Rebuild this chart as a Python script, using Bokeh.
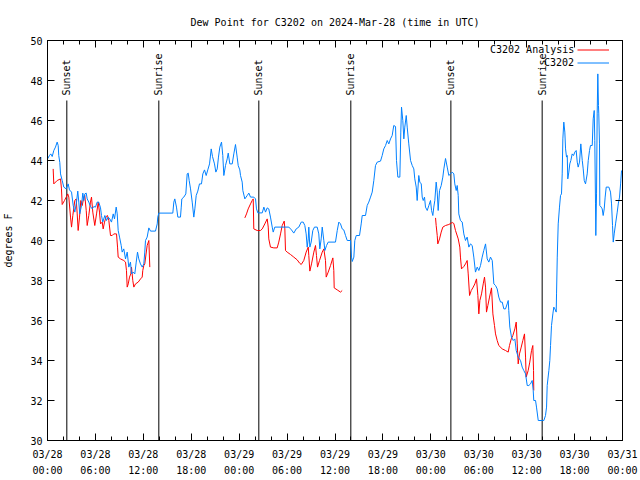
import math
from bokeh.plotting import figure
from bokeh.models import FixedTicker, LinearAxis, Range1d, ColumnDataSource, Legend, LegendItem
from bokeh.core.properties import value
from bokeh.embed import file_html
from bokeh.resources import INLINE

NaN = float("nan")

# hours since 2024-03-28 00:00 UTC
station_hours = [
    0.00, 0.25, 0.41, 0.59, 0.79, 1.00, 1.21, 1.34, 1.41, 1.54, 1.63, 1.84, 2.04, 2.34, 2.59, 2.75,
    3.01, 3.22, 3.42, 3.63, 3.79, 3.92, 4.04, 4.26, 4.42, 4.55, 4.67, 4.85, 4.97, 5.17, 5.38, 5.60,
    5.80, 6.01, 6.22, 6.42, 6.64, 6.76, 6.92, 7.18, 7.39, 7.60, 7.80, 8.01, 8.23, 8.39, 8.60, 8.73,
    8.85, 9.02, 9.23, 9.35, 9.55, 9.77, 9.98, 10.18, 10.39, 10.52, 10.73, 10.93, 11.11, 11.27, 11.43,
    11.64, 11.86, 12.06, 12.18, 12.27, 12.48, 12.69, 12.90, 13.52, 13.74, 13.81, 13.94, 15.69, 15.82,
    15.94, 16.15, 16.32, 16.65, 16.74, 16.82, 17.07, 17.32, 17.49, 17.62, 17.74, 17.91, 18.12, 18.32,
    18.45, 18.62, 18.82, 19.03, 19.28, 19.45, 19.66, 19.87, 20.07, 20.29, 20.50, 20.66, 20.91, 21.08,
    21.25, 21.41, 21.58, 21.79, 21.95, 22.08, 22.29, 22.50, 22.63, 22.83, 23.13, 23.33, 23.54, 23.75,
    23.88, 24.08, 24.17, 24.38, 24.46, 24.71, 25.01, 25.21, 25.42, 25.83, 26.05, 26.17, 26.34, 26.89,
    27.09, 27.30, 27.51, 27.71, 27.92, 28.14, 28.26, 28.46, 30.22, 30.55, 30.84, 31.14, 31.47, 31.77,
    32.02, 32.22, 32.39, 32.52, 32.65, 32.72, 32.85, 33.02, 33.22, 33.43, 33.77, 33.97, 34.10, 34.27,
    34.40, 34.60, 34.73, 34.94, 35.15, 36.06, 36.28, 36.48, 36.69, 36.90, 37.10, 37.32, 37.53, 37.94,
    38.07, 38.16, 38.36, 38.48, 38.66, 39.07, 39.28, 39.41, 39.82, 40.03, 40.23, 40.45, 40.66, 40.86,
    41.07, 41.29, 41.70, 41.91, 42.11, 42.33, 42.54, 42.74, 42.95, 43.16, 43.36, 43.58, 43.70, 43.87,
    44.12, 44.24, 44.33, 44.49, 44.62, 44.74, 44.92, 45.04, 45.24, 45.46, 45.67, 45.87, 45.99, 46.17,
    46.29, 46.49, 46.62, 46.80, 46.92, 47.05, 47.21, 47.33, 47.55, 47.75, 47.96, 48.09, 48.25, 48.37,
    48.50, 48.67, 48.80, 48.92, 49.09, 49.30, 49.50, 49.63, 49.84, 50.05, 50.25, 50.46, 50.68, 50.88,
    51.00, 51.18, 51.30, 51.43, 51.50, 51.71, 51.93, 52.13, 52.34, 52.55, 52.76, 52.97, 53.18, 53.38,
    53.59, 53.81, 54.01, 54.22, 54.43, 54.63, 54.85, 55.06, 55.26, 55.47, 55.69, 55.89, 56.10, 56.31,
    56.51, 56.73, 56.94, 57.14, 57.35, 57.56, 57.69, 57.76, 57.89, 58.10, 58.32, 58.52, 58.69, 58.94,
    59.23, 59.44, 59.64, 59.86, 60.07, 60.27, 60.48, 60.69, 60.82, 60.89, 61.11, 61.23, 61.45, 61.95,
    62.15, 62.36, 62.49, 62.57, 62.78, 62.90, 62.99, 63.11, 63.28, 63.40, 63.53, 63.70, 63.74, 63.83,
    63.95, 64.11, 64.24, 64.36, 64.45, 64.53, 64.65, 64.78, 64.87, 64.99, 65.08, 65.15, 65.28, 65.40,
    65.53, 65.70, 65.87, 66.03, 66.20, 66.33, 66.45, 66.62, 66.78, 66.96, 67.08, 67.21, 67.37, 67.58,
    67.71, 67.87, 67.99, 68.21, 68.33, 68.46, 68.53, 68.62, 68.66, 68.75, 68.83, 68.91, 68.99, 69.03,
    69.12, 69.16, 69.33, 69.46, 69.58, 69.71, 69.83, 69.96, 70.29, 70.50, 70.63, 70.75, 70.84, 70.96,
    71.13, 71.34, 71.47, 71.63, 71.76, 71.88,
]
station_dewpt = [
    44.08, 44.25, 44.33, 44.20, 44.50, 44.67, 44.92, 44.75, 44.25, 43.90, 43.33, 43.00, 42.67, 42.58, 42.83, 42.53,
    42.42, 41.75, 41.42, 41.92, 42.47, 41.92, 41.33, 41.75, 42.37, 42.00, 42.33, 42.37, 42.08, 41.92, 41.70, 41.58,
    41.70, 41.67, 41.92, 41.92, 41.63, 41.25, 40.92, 41.25, 41.00, 41.17, 41.08, 40.92, 41.33, 41.08, 41.67, 41.33,
    40.50, 40.17, 39.75, 39.42, 39.58, 39.08, 39.42, 38.67, 38.92, 38.33, 38.42, 38.33, 38.92, 39.42, 39.08,
    38.83, 38.67, 38.83, 39.42, 40.00, 40.17, 40.63, 40.47, 40.47, 40.83, 41.17, 41.37, 41.37, 41.92,
    42.08, 41.67, 41.17, 41.17, 41.63, 42.08, 42.17, 42.33, 43.33, 43.37, 43.00, 42.58, 41.92, 41.17,
    41.58, 42.25, 42.47, 42.83, 42.83, 43.33, 43.53, 43.25, 43.53, 43.83, 44.58, 44.20, 43.83, 43.42,
    43.58, 44.17, 44.67, 44.92, 44.25, 43.25, 43.75, 44.08, 44.37, 43.83, 43.83, 44.33, 44.80, 44.17,
    43.75, 43.53, 43.25, 42.92, 42.50, 42.08, 42.25, 42.37, 42.17, 42.17, 42.08, 41.58, 41.38, 41.38,
    41.67, 41.42, 41.63, 41.58, 41.17, 40.67, 40.42, 40.67, 40.67, 40.53, 40.37, 40.58, 40.67, 40.92,
    40.92, 40.75, 40.33, 39.67, 40.08, 40.67, 39.67, 39.92, 40.50, 40.67, 40.67, 40.33, 39.58, 40.08,
    40.67, 40.00, 39.50, 39.75, 39.92, 39.92, 40.50, 40.92, 40.83, 40.58, 40.53, 40.25, 40.00, 40.00,
    39.17, 38.95, 39.17, 40.00, 40.25, 40.25, 40.83, 41.25, 41.25, 41.75, 41.92, 42.17, 42.42, 43.00,
    43.75, 43.92, 43.97, 44.25, 44.58, 44.75, 45.00, 44.83, 45.08, 45.25, 45.75, 45.70, 44.00, 43.17,
    43.17, 45.42, 46.67, 46.00, 45.08, 45.67, 46.25, 45.67, 44.83, 44.00, 43.75, 43.58, 43.08, 42.67,
    42.00, 43.25, 42.92, 42.83, 42.17, 42.00, 42.17, 41.67, 41.50, 41.75, 42.00, 41.50, 41.25, 41.67,
    42.00, 42.92, 42.42, 41.50, 42.50, 42.75, 43.17, 43.58, 44.10, 43.67, 43.25, 43.33, 43.42, 43.33,
    42.83, 42.50, 42.75, 42.25, 41.33, 41.00, 40.92, 40.33, 40.00, 40.17, 39.67, 39.83, 39.75, 39.17,
    38.42, 38.67, 38.50, 38.75, 39.17, 39.50, 39.83, 39.08, 38.92, 39.17, 39.00, 37.83, 37.75, 37.58,
    37.17, 36.92, 36.92, 36.58, 36.58, 36.83, 37.00, 36.50, 35.67, 35.17, 35.00, 35.08, 34.50, 34.17,
    34.00, 33.67, 33.50, 33.33, 32.75, 32.75, 32.83, 33.00, 32.50, 32.00, 32.00, 31.67, 31.00, 31.00,
    31.00, 31.25, 31.67, 32.75, 33.50, 34.00, 34.75, 35.75, 36.33, 36.67, 36.58, 36.42, 37.33, 39.17,
    40.83, 41.67, 42.25, 42.33, 43.33, 45.08, 45.92, 45.42, 44.58, 44.17, 44.25, 43.08, 43.42, 43.83,
    44.00, 44.33, 44.25, 44.42, 44.50, 43.92, 43.67, 43.92, 44.83, 44.00, 43.58, 43.00, 42.83, 43.33,
    44.00, 44.50, 44.75, 44.75, 46.08, 46.50, 45.00, 41.83, 40.25, 42.33, 46.33, 48.33, 46.75, 46.33,
    44.83, 41.75, 41.67, 41.58, 41.25, 41.58, 42.17, 42.67, 42.67, 42.42, 41.83, 40.75, 39.92, 40.33,
    40.83, 41.42, 41.83, 42.17, 42.83, 43.50,
]

analysis_hours = [
    0.71, 0.79, 1.21, 1.63, 1.75, 1.84, 2.13, 2.34, 2.54, 2.67, 2.88, 3.01, 3.17, 3.42, 3.59, 3.72,
    3.84, 4.01, 4.17, 4.35, 4.55, 4.67, 4.85, 4.97, 5.17, 5.38, 5.51, 5.67, 5.92, 6.14, 6.35, 6.51,
    6.64, 6.85, 6.97, 7.14, 7.35, 7.51, 7.68, 7.89, 8.10, 8.30, 8.64, 8.77, 8.85, 9.14, 9.55, 9.77,
    9.89, 9.98, 10.11, 10.27, 10.43, 10.52, 10.68, 10.81, 11.02, 11.36, 11.65, 11.86, 11.93, 12.06,
    12.18, 12.48, 12.69, 12.81,
    NaN,
    24.71, 24.92, 25.13, 25.42, 25.63, 25.76, 25.83, 26.26, 26.67, 26.89, 27.21, 27.51, 27.64, 27.71,
    27.92, 28.34, 28.76, 28.96, 29.18, 29.39, 29.64, 29.72, 29.80, 30.01, 30.43, 30.84, 31.27, 31.56,
    31.77, 32.09, 32.39, 32.65, 32.72, 32.85, 33.06, 33.35, 33.56, 33.68, 33.81, 34.06, 34.40, 34.60,
    34.81, 34.90, 35.15, 35.44, 35.73, 35.85, 35.90, 36.28, 36.69, 36.90,
    NaN,
    48.59, 48.67, 48.80, 48.87, 49.09, 49.30, 49.50, 49.84, 50.25, 50.68, 50.88, 51.09, 51.43, 51.63,
    51.71, 51.84, 52.13, 52.34, 52.55, 52.68, 52.85, 53.06, 53.31, 53.51, 53.72, 53.89, 54.01, 54.14,
    54.35, 54.56, 54.72, 54.85, 54.97, 55.14, 55.35, 55.60, 55.77, 55.97, 56.10, 56.31, 56.51, 56.94,
    57.35, 57.69, 57.85, 58.07, 58.27, 58.52, 58.69, 58.82, 58.94, 59.10, 59.32, 59.52, 59.73, 59.86,
    59.94, 60.19, 60.39, 60.61, 60.77, 60.86, 60.89,
]
analysis_dewpt = [
    43.58, 42.83, 43.00, 43.08, 42.58, 41.80, 42.00, 42.17, 42.33, 42.17, 41.17, 40.67, 41.25, 42.00, 42.08, 41.33,
    40.50, 41.17, 42.00, 41.75, 42.17, 42.25, 41.50, 40.75, 41.25, 41.92, 42.17, 41.42, 40.75, 41.33, 41.92, 41.42,
    40.83, 40.92, 40.58, 40.92, 41.20, 41.25, 41.00, 40.25, 40.25, 40.33, 40.33, 39.67, 39.17, 39.08, 39.00, 38.92,
    38.50, 37.67, 37.83, 38.17, 38.33, 38.67, 38.00, 37.67, 37.83, 37.92, 38.08, 38.17, 38.50, 38.75,
    38.83, 39.75, 40.00, 38.67,
    NaN,
    41.13, 41.33, 41.58, 41.83, 42.00, 42.08, 40.58, 40.50, 40.50, 40.58, 40.83, 41.08, 40.67, 40.08,
    39.67, 39.63, 39.63, 39.92, 40.33, 40.75, 40.97, 40.58, 39.50, 39.42, 39.30, 39.17, 39.03, 38.87,
    38.80, 39.00, 39.42, 39.67, 39.25, 38.47, 38.83, 39.42, 39.75, 39.25, 38.67, 39.00, 39.42, 39.58,
    39.00, 38.17, 38.42, 38.75, 39.13, 38.50, 37.63, 37.53, 37.42, 37.50,
    NaN,
    41.13, 40.75, 40.25, 39.83, 40.08, 40.42, 40.67, 40.75, 40.80, 40.90, 40.85, 40.50, 40.08, 39.67,
    39.17, 38.58, 38.70, 38.83, 39.00, 38.33, 37.25, 37.50, 37.67, 37.83, 38.08, 37.25, 36.33, 37.00,
    37.33, 37.83, 38.17, 37.67, 36.42, 36.75, 37.17, 37.63, 36.33, 35.75, 35.33, 35.00, 34.75, 34.58,
    34.50, 34.42, 34.75, 35.08, 35.25, 35.58, 35.92, 34.83, 33.83, 34.33, 34.67, 35.00, 35.33, 34.17,
    33.17, 33.50, 33.92, 34.50, 34.75, 33.50, 32.50,
]

sun_event_hours = [2.42, 13.94, 26.46, 37.98, 50.51, 61.94]
sun_event_labels = ["Sunset", "Sunrise", "Sunset", "Sunrise", "Sunset", "Sunrise"]

x_tick_hours = [0, 6, 12, 18, 24, 30, 36, 42, 48, 54, 60, 66, 72]
x_tick_labels = ["03/28\n00:00", "03/28\n06:00", "03/28\n12:00", "03/28\n18:00",
                 "03/29\n00:00", "03/29\n06:00", "03/29\n12:00", "03/29\n18:00",
                 "03/30\n00:00", "03/30\n06:00", "03/30\n12:00", "03/30\n18:00",
                 "03/31\n00:00"]
x_minor_hours = list(range(0, 73, 2))
y_ticks = [30, 32, 34, 36, 38, 40, 42, 44, 46, 48, 50]

series_names = ["C3202 Analysis", "C3202"]
series_colors = ["#ff0000", "#0080ff"]

FONT = "DejaVu Sans Mono"
FS = "10px"

p = figure(width=640, height=480, output_backend="svg", toolbar_location=None,
           x_range=Range1d(0, 72), y_range=Range1d(30, 50),
           title="Dew Point for C3202 on 2024-Mar-28 (time in UTC)",
           min_border_left=47, min_border_right=18, min_border_top=40, min_border_bottom=40)
p.title.align = "center"
p.title.text_font = FONT
p.title.text_font_size = FS
p.title.text_font_style = "normal"
p.title.text_color = "black"
p.title.standoff = 25
p.grid.visible = False
p.outline_line_color = "black"
p.outline_line_alpha = 1.0
p.background_fill_color = "white"
p.border_fill_color = "white"

def style_axis(ax):
    ax.axis_line_color = "black"
    ax.major_tick_line_color = "black"
    ax.minor_tick_line_color = "black"
    ax.major_tick_in = 7
    ax.major_tick_out = 0
    ax.major_label_text_font = FONT
    ax.major_label_text_font_size = FS
    ax.major_label_text_color = "black"

xa = p.xaxis[0]
xa.ticker = FixedTicker(ticks=x_tick_hours, minor_ticks=x_minor_hours)
xa.major_label_overrides = {h: lab for h, lab in zip(x_tick_hours, x_tick_labels)}
style_axis(xa)
xa.minor_tick_in = 4
xa.minor_tick_out = 0
xa.major_label_standoff = 8
xa.major_label_text_line_height = 1.5

ya = p.yaxis[0]
ya.ticker = FixedTicker(ticks=y_ticks, minor_ticks=[])
style_axis(ya)
ya.minor_tick_in = 0
ya.minor_tick_out = 0
ya.major_label_standoff = 5
ya.axis_label = "degrees F"
ya.axis_label_text_font = FONT
ya.axis_label_text_font_size = FS
ya.axis_label_text_font_style = "normal"
ya.axis_label_text_color = "black"
ya.axis_label_standoff = 13

top = LinearAxis(ticker=FixedTicker(ticks=x_tick_hours, minor_ticks=x_minor_hours),
                 major_label_overrides={h: "" for h in x_tick_hours})
style_axis(top)
top.minor_tick_in = 4
top.minor_tick_out = 0
top.major_label_standoff = 0
top.major_label_text_font_size = "0px"
p.add_layout(top, "above")

right = LinearAxis(ticker=FixedTicker(ticks=y_ticks, minor_ticks=[]),
                   major_label_overrides={t: "" for t in y_ticks})
style_axis(right)
right.minor_tick_in = 0
right.minor_tick_out = 0
right.major_label_standoff = 0
right.major_label_text_font_size = "0px"
p.add_layout(right, "right")

# sunrise / sunset markers
sun_src = ColumnDataSource(dict(x=sun_event_hours,
                                y0=[30] * len(sun_event_hours),
                                y1=[47] * len(sun_event_hours),
                                ly=[47.25] * len(sun_event_hours),
                                label=sun_event_labels))
p.segment(x0="x", y0="y0", x1="x", y1="y1", source=sun_src, line_color="black", line_width=1)
p.text(x="x", y="ly", text="label", source=sun_src, angle=math.pi / 2,
       text_align="left", text_baseline="middle", text_font=value(FONT),
       text_font_size=FS, text_color="black")

r_analysis = p.line(analysis_hours, analysis_dewpt, line_color=series_colors[0], line_width=1)
r_station = p.line(station_hours, station_dewpt, line_color=series_colors[1], line_width=1)

# gnuplot-style key: right-aligned text, line sample to its right
def make_legend(label, renderer, loc, glyph_w):
    lg = Legend(items=[LegendItem(label=label, renderers=[renderer])], location=loc,
                border_line_color=None, background_fill_alpha=0, padding=0, margin=0,
                spacing=0, label_standoff=0, glyph_width=glyph_w, glyph_height=13,
                label_height=13, label_text_font=FONT, label_text_font_size=FS,
                label_text_color="black", click_policy="none")
    p.add_layout(lg, "center")
    return lg

make_legend(series_names[0], r_analysis, (443, 384.5), 0)
make_legend(series_names[1], r_station, (497, 371.5), 0)
make_legend("", r_analysis, (530, 384.5), 32)
make_legend("", r_station, (530, 371.5), 32)

open("out.html", "w").write(file_html(p, INLINE))
